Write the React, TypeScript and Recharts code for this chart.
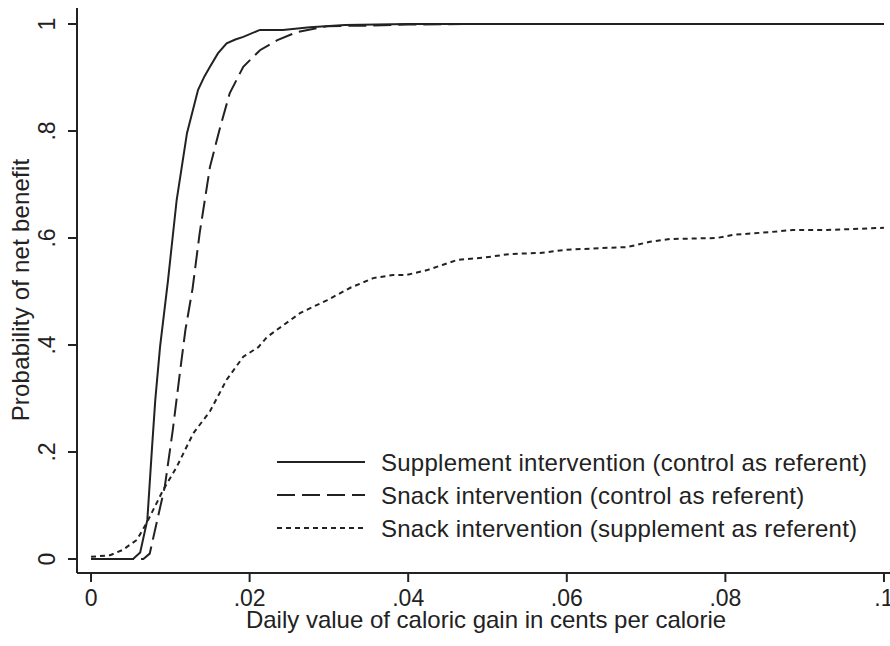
import { LineChart, Line, XAxis, YAxis, Legend } from 'recharts';

// Supplement intervention (control as referent)
const suppX = [0, 0.005, 0.0053, 0.0062, 0.0071, 0.0077, 0.0081, 0.0087, 0.0097, 0.0108, 0.0121, 0.0135, 0.0143, 0.015, 0.016, 0.0171, 0.0182, 0.0192, 0.0213, 0.0242, 0.0276, 0.032, 0.04, 0.06, 0.08, 0.1];
const suppY = [0, 0, 0, 0.012, 0.073, 0.21, 0.297, 0.396, 0.52, 0.671, 0.796, 0.877, 0.902, 0.92, 0.945, 0.964, 0.971, 0.976, 0.989, 0.989, 0.994, 0.998, 1, 1, 1, 1];

// Snack intervention (control as referent)
const snackX = [0, 0.0066, 0.0074, 0.0093, 0.0103, 0.0112, 0.0119, 0.0128, 0.0137, 0.015, 0.0163, 0.0175, 0.0192, 0.0213, 0.0235, 0.026, 0.0298, 0.035, 0.04, 0.047, 0.06, 0.08, 0.1];
const snackY = [0, 0, 0.01, 0.135, 0.24, 0.347, 0.428, 0.505, 0.609, 0.733, 0.808, 0.871, 0.92, 0.951, 0.97, 0.985, 0.996, 0.997, 0.999, 1, 1, 1, 1];

// Snack intervention (supplement as referent)
const snackSuppX = [0, 0.0024, 0.004, 0.0058, 0.007, 0.0091, 0.0108, 0.0129, 0.015, 0.0171, 0.0192, 0.0211, 0.0222, 0.0264, 0.0298, 0.0327, 0.0356, 0.0381, 0.0398, 0.0424, 0.0444, 0.0462, 0.0494, 0.0528, 0.0566, 0.06, 0.0642, 0.0676, 0.0705, 0.073, 0.0789, 0.081, 0.0856, 0.0885, 0.0928, 0.1];
const snackSuppY = [0.004, 0.007, 0.017, 0.036, 0.067, 0.129, 0.172, 0.235, 0.276, 0.335, 0.378, 0.396, 0.415, 0.46, 0.484, 0.507, 0.525, 0.531, 0.531, 0.54, 0.55, 0.559, 0.563, 0.57, 0.572, 0.578, 0.581, 0.583, 0.593, 0.598, 0.6, 0.606, 0.611, 0.615, 0.615, 0.619];

const xTicks = [0, 0.02, 0.04, 0.06, 0.08, 0.1];
const xTickLabels = ['0', '.02', '.04', '.06', '.08', '.1'];
const yTicks = [0, 0.2, 0.4, 0.6, 0.8, 1];
const yTickLabels = ['0', '.2', '.4', '.6', '.8', '1'];

const seriesNames = [
  'Supplement intervention (control as referent)',
  'Snack intervention (control as referent)',
  'Snack intervention (supplement as referent)',
];

const toPoints = (xs: number[], ys: number[]) => xs.map((x, i) => ({ x, y: ys[i] }));

const INK = '#222';
const FONT = '"Liberation Sans", Arial, sans-serif';
const dashes = ['', '18 7', '5 4'];

const XTick = ({ x, y, payload }: any) => {
  const i = xTicks.indexOf(payload.value);
  return (
    <text x={x} y={y + 22} textAnchor="middle" fontSize={23} fill={INK} fontFamily={FONT}>
      {xTickLabels[i] ?? payload.value}
    </text>
  );
};

const YTick = ({ y, payload }: any) => {
  const i = yTicks.indexOf(payload.value);
  const cx = 47;
  return (
    <text
      x={cx}
      y={y}
      transform={`rotate(-90, ${cx}, ${y})`}
      textAnchor="middle"
      dominantBaseline="central"
      fontSize={23}
      fill={INK}
      fontFamily={FONT}
    >
      {yTickLabels[i] ?? payload.value}
    </text>
  );
};

const LegendBox = () => (
  <svg width={620} height={110}>
    {seriesNames.map((name, i) => (
      <g key={name}>
        <line x1={7} x2={95} y1={22 + i * 33} y2={22 + i * 33} stroke={INK} strokeWidth={2} strokeDasharray={dashes[i] || undefined} />
        <text x={111} y={22 + i * 33} dominantBaseline="central" fontSize={24} letterSpacing={0.25} fill={INK} fontFamily={FONT}>
          {name}
        </text>
      </g>
    ))}
  </svg>
);

export default function App() {
  return (
    <div style={{ position: 'absolute', left: 0, top: 0, width: 890, height: 646, overflow: 'hidden', background: '#fff' }}>
      <LineChart width={920} height={646} margin={{ top: 8, right: 22, bottom: 33, left: 17 }}>
        <XAxis
          dataKey="x"
          type="number"
          domain={[-0.00177, 0.10177]}
          ticks={xTicks}
          tick={<XTick />}
          tickSize={9}
          height={40}
          stroke={INK}
          strokeWidth={2}
          allowDataOverflow
        />
        <XAxis xAxisId="top" orientation="top" type="number" domain={[-0.00177, 0.10177]} height={0} tick={false} tickLine={false} stroke={INK} strokeWidth={2} />
        <YAxis
          dataKey="y"
          type="number"
          domain={[-0.0262, 1.0299]}
          ticks={yTicks}
          tick={<YTick />}
          tickSize={9}
          width={60}
          stroke={INK}
          strokeWidth={2}
          allowDataOverflow
          label={{
            content: () => (
              <text x={20} y={290} transform="rotate(-90, 20, 290)" textAnchor="middle" dominantBaseline="central" fontSize={24} letterSpacing={0.2} fill={INK} fontFamily={FONT}>
                Probability of net benefit
              </text>
            ),
          }}
        />
        <YAxis yAxisId="right" orientation="right" type="number" domain={[-0.0262, 1.0299]} width={0} tick={false} tickLine={false} stroke={INK} strokeWidth={2} />
        <Line data={toPoints(suppX, suppY)} dataKey="y" name={seriesNames[0]} type="linear" stroke={INK} strokeWidth={2} dot={false} isAnimationActive={false} />
        <Line data={toPoints(snackX, snackY)} dataKey="y" name={seriesNames[1]} type="linear" stroke={INK} strokeWidth={2} strokeDasharray={dashes[1]} dot={false} isAnimationActive={false} />
        <Line data={toPoints(snackSuppX, snackSuppY)} dataKey="y" name={seriesNames[2]} type="linear" stroke={INK} strokeWidth={2} strokeDasharray={dashes[2]} dot={false} isAnimationActive={false} />
        <Legend
          layout="vertical"
          align="center"
          verticalAlign="middle"
          content={<LegendBox />}
          wrapperStyle={{ position: 'absolute', left: 270, top: 440, width: 620, height: 110 }}
        />
      </LineChart>
      <div
        style={{
          position: 'absolute',
          left: 0,
          top: 607,
          width: 972,
          textAlign: 'center',
          fontSize: 24,
          fontFamily: FONT,
          color: INK,
          lineHeight: '26px',
        }}
      >
        Daily value of caloric gain in cents per calorie
      </div>
    </div>
  );
}
